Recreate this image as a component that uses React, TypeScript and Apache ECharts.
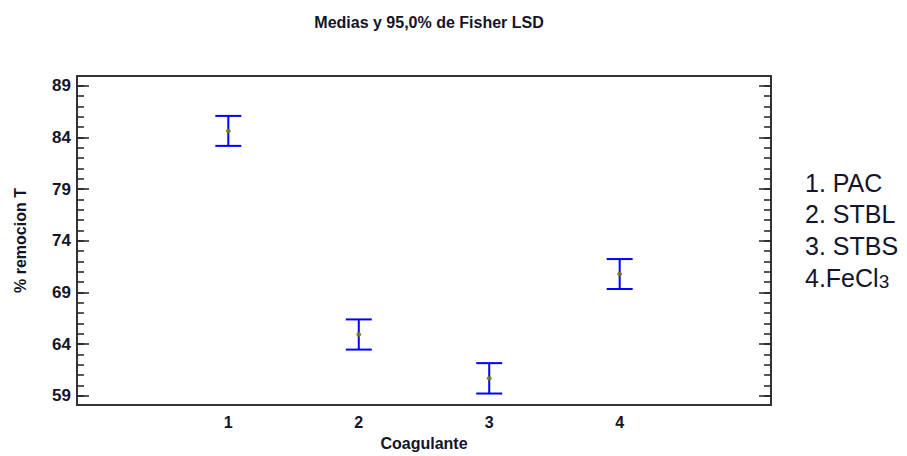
import React, { useEffect, useRef } from "react";
import * as echarts from "echarts";

// Coagulant groups (numeric x positions) and their names
const groups = [1, 2, 3, 4];
const groupNames = ["1. PAC", "2. STBL", "3. STBS", "4.FeCl"];

// Mean % removal and 95% Fisher LSD interval bounds
const means = [84.63, 64.93, 60.69, 70.78];
const lower = [83.18, 63.47, 59.22, 69.33];
const upper = [86.08, 66.39, 62.16, 72.23];

// Tick positions
const yMajorTicks = [59, 64, 69, 74, 79, 84, 89];
const yMinorTicks = Array.from({ length: 31 }, (_, i) => 59 + i);

const FONT = "'Liberation Sans', Arial, sans-serif";
const TEXT = "#14142a";

export default function App() {
  const ref = useRef<HTMLDivElement>(null);

  useEffect(() => {
    if (!ref.current) return;
    const chart = echarts.init(ref.current, undefined, { renderer: "svg" });

    const yBase = {
      type: "value" as const,
      min: 58.1,
      max: 89.94,
      splitLine: { show: false },
      axisLine: { show: false, onZero: false },
    };

    const errData = groups.map((g, i) => [g, lower[i], upper[i]]);
    const meanData = groups.map((g, i) => [g, means[i]]);

    chart.setOption({
      animation: false,
      title: {
        text: "Medias y 95,0% de Fisher LSD",
        left: 424,
        textAlign: "center",
        top: 9,
        textStyle: { fontFamily: FONT, fontSize: 16, fontWeight: "bold", color: TEXT },
      },
      grid: {
        left: 77,
        right: 136,
        top: 76,
        bottom: 50,
        show: true,
        borderColor: "#333",
        borderWidth: 2,
        backgroundColor: "transparent",
      },
      xAxis: [
        {
          type: "value",
          min: -0.16,
          max: 5.16,
          position: "bottom",
          name: "Coagulante",
          nameLocation: "middle",
          nameGap: 26,
          nameTextStyle: { fontFamily: FONT, fontSize: 16, fontWeight: "bold", color: TEXT },
          axisLine: { show: false, onZero: false },
          axisTick: { show: false },
          splitLine: { show: false },
          axisLabel: {
            customValues: groups,
            fontFamily: FONT,
            fontSize: 16,
            fontWeight: "bold",
            color: TEXT,
            margin: 9,
          },
        },
      ],
      yAxis: [
        {
          ...yBase,
          position: "left",
          name: "% remocion T",
          nameLocation: "middle",
          nameGap: 49,
          nameRotate: 90,
          nameTextStyle: { fontFamily: FONT, fontSize: 16, fontWeight: "bold", color: TEXT },
          axisTick: { inside: true, length: 12, customValues: yMajorTicks, lineStyle: { color: "#222", width: 1.5 } },
          axisLabel: {
            customValues: yMajorTicks,
            fontFamily: FONT,
            fontSize: 17,
            fontWeight: "bold",
            color: TEXT,
            margin: 6,
          },
        },
        {
          ...yBase,
          position: "left",
          axisTick: { inside: true, length: 7, customValues: yMinorTicks, lineStyle: { color: "#222", width: 1.5 } },
          axisLabel: { show: false },
        },
        {
          ...yBase,
          position: "right",
          axisTick: { inside: true, length: 12, customValues: yMajorTicks, lineStyle: { color: "#222", width: 1.5 } },
          axisLabel: { show: false },
        },
        {
          ...yBase,
          position: "right",
          axisTick: { inside: true, length: 7, customValues: yMinorTicks, lineStyle: { color: "#222", width: 1.5 } },
          axisLabel: { show: false },
        },
      ],
      series: [
        {
          type: "custom",
          xAxisIndex: 0,
          yAxisIndex: 0,
          data: errData,
          renderItem: (params: any, api: any) => {
            const x = api.value(0);
            const lo = api.coord([x, api.value(1)]);
            const hi = api.coord([x, api.value(2)]);
            const half = 13;
            const style = { stroke: "#0000ff", lineWidth: 2, fill: "none" };
            return {
              type: "group",
              children: [
                { type: "line", shape: { x1: lo[0], y1: lo[1], x2: hi[0], y2: hi[1] }, style },
                { type: "line", shape: { x1: hi[0] - half, y1: hi[1], x2: hi[0] + half, y2: hi[1] }, style },
                { type: "line", shape: { x1: lo[0] - half, y1: lo[1], x2: lo[0] + half, y2: lo[1] }, style },
              ],
            };
          },
          z: 2,
        },
        {
          type: "scatter",
          xAxisIndex: 0,
          yAxisIndex: 0,
          data: meanData,
          symbol: "circle",
          symbolSize: 4,
          itemStyle: { color: "#8a8a10", borderColor: "#6b6b00", borderWidth: 1 },
          z: 3,
        },
      ],
      graphic: [
        {
          type: "group",
          left: 805,
          top: 170,
          children: groupNames.map((name, i) => ({
            type: "text",
            x: 0,
            y: i * 31.5,
            style: {
              text: i === 3 ? `${name}{sub|3}` : name,
              rich: { sub: { fontSize: 19, fontFamily: FONT, fill: TEXT, padding: [7, 0, 0, 0] } },
              fontFamily: FONT,
              fontSize: 25,
              fill: TEXT,
            },
          })),
        },
      ],
    });

    return () => chart.dispose();
  }, []);

  return (
    <div
      ref={ref}
      style={{ position: "absolute", left: 0, top: 0, width: 907, height: 456 }}
    />
  );
}
